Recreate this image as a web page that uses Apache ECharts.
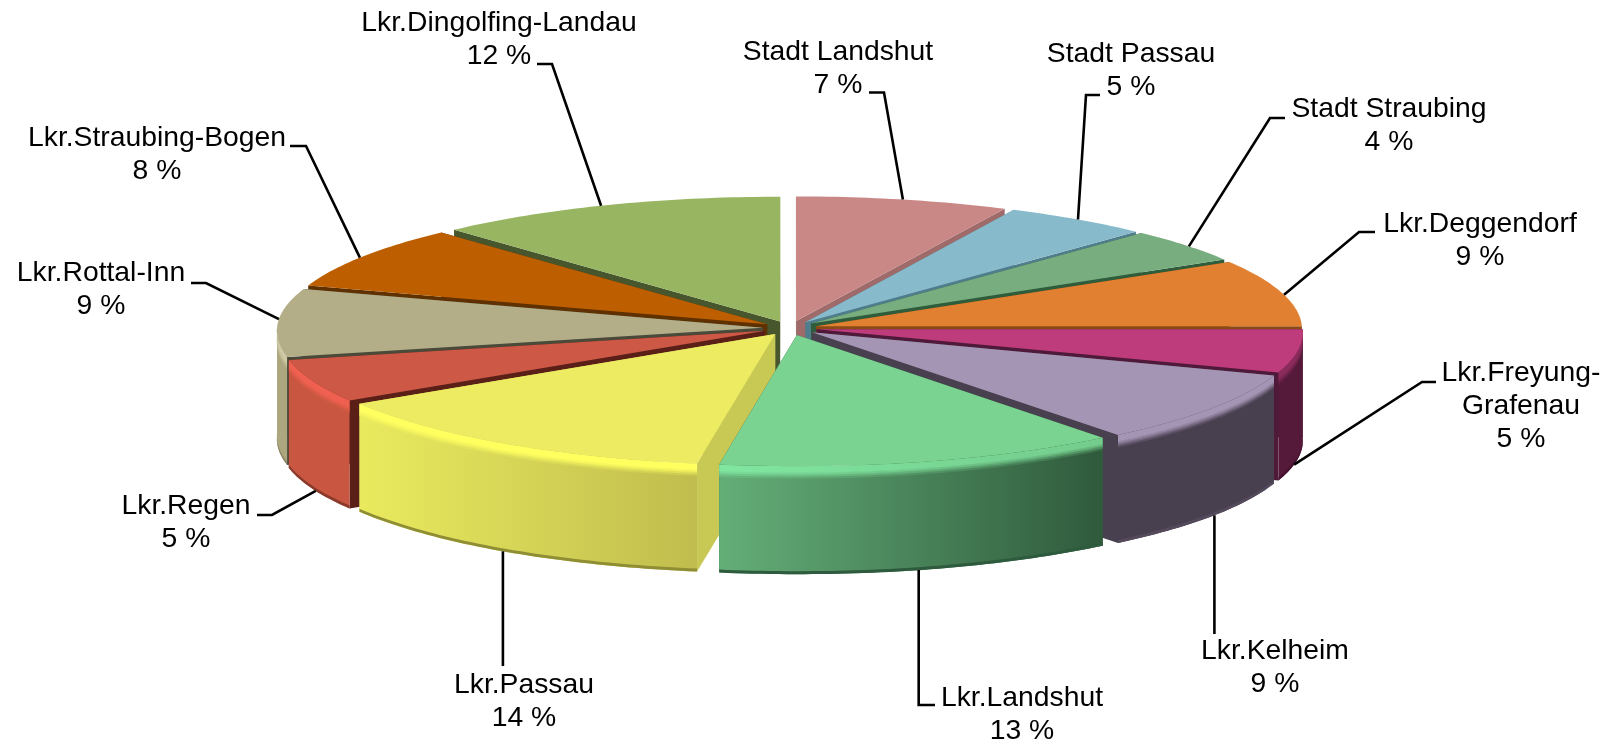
<!DOCTYPE html>
<html><head><meta charset="utf-8">
<style>html,body{margin:0;padding:0;background:#fff}#c{width:1612px;height:745px}</style>
<script src="https://cdn.jsdelivr.net/npm/echarts@6/dist/echarts.min.js"></script>
</head><body><div id="c"></div>
<script>
// ---- data (clockwise from 12 o'clock) ----
const categories = ['Stadt Landshut','Stadt Passau','Stadt Straubing','Lkr.Deggendorf','Lkr.Freyung-\nGrafenau','Lkr.Kelheim','Lkr.Landshut','Lkr.Passau','Lkr.Regen','Lkr.Rottal-Inn','Lkr.Straubing-Bogen','Lkr.Dingolfing-Landau'];
const values = [7.25,4.95,4.35,8.5,5.45,9.0,13.1,13.5,5.4,8.6,8.1,12.0];

// ---- styles ----
const topColors  = ['#C98886','#87BBCC','#78AD80','#E18031','#BF3C7C','#A595B5','#7AD391','#ECEB62','#CC5845','#B4AE88','#BD5F00','#98B562'];
const cutColors  = ['#9E6B6A','#4F7D8C','#2F5C3A','#8A4C14','#4F1A3A','#483F4F','#2F5A3C','#C8C855','#5A2018','#4A4A3A','#5F3000','#47562C'];
const wallLeft   = ['#9E6B6A','#4F7D8C','#2F5C3A','#8A4C14','#55193A','#483F4F','#64AE78','#EAEA5E','#C85640','#ADA77F','#5F3000','#47562C'];
const wallRight  = ['#9E6B6A','#4F7D8C','#2F5C3A','#8A4C14','#55193A','#483F4F','#2F5A3C','#C0BD4E','#C85640','#ADA77F','#5F3000','#47562C'];
const bandLeft   = ['#C98886','#87BBCC','#78AD80','#E18031','#8A2B5C','#A595B5','#80E6A0','#FFFF60','#F06050','#CFCAA5','#BD5F00','#98B562'];
const bandRight  = ['#C98886','#87BBCC','#78AD80','#E18031','#8A2B5C','#A595B5','#74CC8C','#FFFF60','#F06050','#CFCAA5','#BD5F00','#98B562'];
const footColors = ['#9E6B6A','#4F7D8C','#2F5C3A','#8A4C14','#45122E','#544A5C','#2E5A3D','#8F8E35','#8A3A2A','#8A8566','#5F3000','#47562C'];

// ---- layout of the labels (label centre, top of first line; leader elbow, leader end, anchor shift in degrees) ----
const labelPos = [[838,36],[1131,38],[1389,93],[1480,208],[1521,357],[1275,635],[1022,682],[524,669],[186,490],[101,257],[157,122],[499,7]];
const leaderMid = [[884,92.5],[1086,95],[1270,118],[1359,232],[1422,382],[1213,634],[919,705],[504,666],[272,515],[206,283],[306,146],[552,64]];
const leaderEnd = [[869,92.5],[1100,95],[1285,118],[1375,232],[1436,382],null,[935,705],null,[257,515],[191,283],[290,146],[537,64]];
const leaderShift = [0,0,0.5,1,2.5,-0.4,0.4,0,-1,1.5,-0.5,-0.6];

// ---- pie geometry ----
const CX=790, CY=328, RX=486, RY=127.9, PERSP=0.0234, EXPLODE=0.0556, DEPTH=108;
const total = values.reduce((a,b)=>a+b,0);
const D2R = Math.PI/180;
const slices = []; { let acc=0; values.forEach((v,i)=>{ const a0=acc/total*360; acc+=v; const a1=acc/total*360; slices.push({i,a0,a1,mid:(a0+a1)/2}); }); }

function proj(sl, r, deg, z){
  const m=sl.mid*D2R, t=deg*D2R;
  const U=EXPLODE*Math.sin(m)+r*Math.sin(t);
  const V=-(EXPLODE*Math.cos(m)+r*Math.cos(t));
  const s=1/(1-PERSP*V);
  return [CX+RX*U*s, CY+RY*V*s+(z||0)];
}
function arc(sl,a0,a1,z){ const p=[]; const n=Math.max(2,Math.ceil(Math.abs(a1-a0))); for(let k=0;k<=n;k++) p.push(proj(sl,1,a0+(a1-a0)*k/n,z)); return p; }
function strip(sl,a0,a1,z0,z1){ return arc(sl,a0,a1,z0).concat(arc(sl,a0,a1,z1).reverse()); }
function hex(c){ return [1,3,5].map(k=>parseInt(c.substr(k,2),16)); }
function mix(a,b,t){ const x=hex(a),y=hex(b); return 'rgb('+x.map((v,k)=>Math.round(v+(y[k]-v)*t)).join(',')+')'; }
function grad(l,r){ return {type:'linear',x:1,y:0,x2:0,y2:0,colorStops:[{offset:0,color:r},{offset:1,color:l}]}; }
function poly(points,fill){ return {type:'polygon',shape:{points},style:{fill,stroke:null}}; }

function drawSlice(sl){
  const i=sl.i, kids=[];
  const apexTop=proj(sl,0,0,0), apexBot=proj(sl,0,0,DEPTH);
  [sl.a0,sl.a1].forEach(a=>{
    const r0=proj(sl,1,a,0), r1=proj(sl,1,a,DEPTH);
    kids.push(poly([apexTop,r0,r1,apexBot],cutColors[i]));
  });
  const f0=Math.max(sl.a0,90), f1=Math.min(sl.a1,270);
  if(f1>f0){
    kids.push(poly(strip(sl,f0,f1,0,DEPTH),grad(wallLeft[i],wallRight[i])));
    kids.push(poly(strip(sl,f0,f1,DEPTH-3,DEPTH),footColors[i]));
    // soft bevel below the rim: a run of thin strips easing from the rim colour to the wall
    const BEVEL=[[0,6,0],[6,8,0.2],[8,10,0.5],[10,12,0.8]];
    BEVEL.slice().reverse().forEach(b=>{
      kids.push(poly(strip(sl,f0,f1,b[0],b[1]+0.5),grad(mix(bandLeft[i],wallLeft[i],b[2]),mix(bandRight[i],wallRight[i],b[2]))));
    });
  }
  kids.push(poly([apexTop].concat(arc(sl,sl.a0,sl.a1,0)),topColors[i]));
  return {type:'group',children:kids};
}

// paint from back to front
const paintOrder = slices.slice().sort((a,b)=>Math.cos(b.mid*D2R)-Math.cos(a.mid*D2R));

const option = {
  animation:false,
  backgroundColor:'#fff',
  series:[
    { type:'custom', coordinateSystem:'none', silent:true, clip:false, z:1,
      data:paintOrder.map(s=>[s.i,values[s.i]]),
      renderItem:(params,api)=>drawSlice(slices[api.value(0)]) },
    { type:'custom', coordinateSystem:'none', silent:true, clip:false, z:2,
      data:categories.map((c,i)=>[i,values[i]]),
      renderItem:(params,api)=>{
        const i=api.value(0), sl=slices[i];
        const ang=sl.mid+leaderShift[i];
        const front=Math.cos(ang*D2R)<0;
        const start=proj(sl,1,ang,front?DEPTH:0);
        const mid=(!leaderEnd[i]||front&&Math.abs(leaderMid[i][0]-start[0])<6)?[start[0],leaderMid[i][1]]:leaderMid[i];
        const pts=[start,mid]; if(leaderEnd[i]) pts.push(leaderEnd[i]);
        return {type:'group',children:[
          {type:'polyline',shape:{points:pts},style:{stroke:'#000',lineWidth:2.6,fill:null}},
          {type:'text',x:labelPos[i][0],y:labelPos[i][1],style:{
            text:categories[i]+'\n'+Math.round(api.value(1))+' %',
            font:'28.3px "Liberation Sans", Arial, sans-serif',lineHeight:33,
            align:'center',verticalAlign:'top',fill:'#000'}}
        ]};
      } }
  ]
};
echarts.init(document.getElementById('c'),null,{renderer:'canvas'}).setOption(option);
</script></body></html>
